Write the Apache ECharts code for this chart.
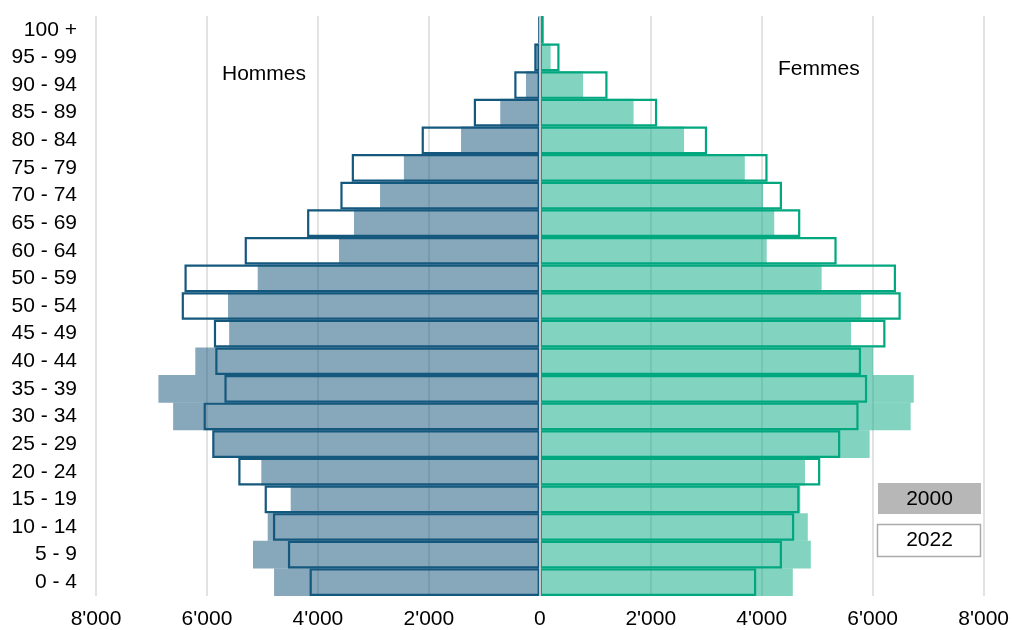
<!DOCTYPE html>
<html>
<head>
<meta charset="utf-8">
<script src="https://cdn.jsdelivr.net/npm/echarts@6/dist/echarts.min.js"></script>
<style>
html,body{margin:0;padding:0;background:#fff;}
#chart{width:1012px;height:630px;}
</style>
</head>
<body>
<div id="chart"></div>
<script>
const categories = ['0 - 4','5 - 9','10 - 14','15 - 19','20 - 24','25 - 29','30 - 34','35 - 39','40 - 44','45 - 49','50 - 54','50 - 59','60 - 64','65 - 69','70 - 74','75 - 79','80 - 84','85 - 89','90 - 94','95 - 99','100 +'];
const men2000 = [4790, 5170, 4905, 4490, 5020, 5890, 6610, 6875, 6210, 5600, 5620, 5085, 3620, 3350, 2880, 2450, 1420, 713, 250, 80, 10];
const men2022 = [4150, 4540, 4810, 4960, 5435, 5905, 6060, 5685, 5850, 5875, 6455, 6405, 5320, 4195, 3595, 3390, 2130, 1190, 460, 100, 20];
const women2000 = [4560, 4885, 4830, 4695, 4780, 5945, 6685, 6740, 6005, 5610, 5790, 5080, 4090, 4225, 4025, 3695, 2600, 1690, 780, 195, 30];
const women2022 = [3900, 4365, 4585, 4680, 5055, 5415, 5745, 5900, 5790, 6230, 6505, 6420, 5350, 4695, 4365, 4105, 3015, 2115, 1220, 355, 70];
const xTicks = [-8000, -6000, -4000, -2000, 0, 2000, 4000, 6000, 8000];

const FONT = 'Arial, "Liberation Sans", sans-serif';
const FS = 21;
function fmt(v){
  const a = Math.abs(v);
  return String(a).replace(/\B(?=(\d{3})+(?!\d))/g, "'");
}

const chart = echarts.init(document.getElementById('chart'), null, {renderer:'canvas'});
chart.setOption({
  animation:false,
  backgroundColor:'#ffffff',
  grid:{left:96, right:27, top:16, bottom:34, containLabel:false},
  xAxis:{
    type:'value', min:xTicks[0], max:xTicks[xTicks.length-1], interval:2000,
    axisLine:{show:false}, axisTick:{show:false},
    splitLine:{show:true, lineStyle:{color:'#d9d9d9', width:1.5}},
    axisLabel:{formatter:fmt, color:'#000', fontSize:FS, fontFamily:FONT, margin:13}
  },
  yAxis:{
    type:'category', data:categories,
    axisLine:{show:false}, axisTick:{show:false}, splitLine:{show:false},
    axisLabel:{color:'#000', fontSize:FS, fontFamily:FONT, margin:19}
  },
  series:[
    {name:'Hommes 2000', type:'bar', data:men2000.map(v=>-v), barGap:'-100%', barCategoryGap:'0%',
     itemStyle:{color:'rgba(16,80,120,0.5)'}},
    {name:'Femmes 2000', type:'bar', data:women2000, barGap:'-100%', barCategoryGap:'0%',
     itemStyle:{color:'rgba(5,170,130,0.5)'}},
    {name:'Hommes 2022', type:'bar', data:men2022.map(v=>-v), barGap:'-100%', barCategoryGap:'0%',
     itemStyle:{color:'rgba(0,0,0,0)', borderColor:'#15587e', borderWidth:2.2}},
    {name:'Femmes 2022', type:'bar', data:women2022, barGap:'-100%', barCategoryGap:'0%',
     itemStyle:{color:'rgba(0,0,0,0)', borderColor:'#00a77f', borderWidth:2.2}},
    {name:'axis0', type:'line', data:[], z:20,
     markLine:{silent:true, symbol:['none','none'], label:{show:false},
       lineStyle:{color:'#c8c8c8', width:2, type:'solid'},
       data:[{xAxis:0}]}}
  ],
  graphic:[
    {type:'text', left:222, top:64, z:50, style:{text:'Hommes', fill:'#000', font:FS+'px '+FONT}},
    {type:'text', left:778, top:59, z:50, style:{text:'Femmes', fill:'#000', font:FS+'px '+FONT}},
    {type:'rect', shape:{x:878, y:483, width:103, height:31}, z:50, style:{fill:'#b7b7b7'}},
    {type:'text', z:51, x:929.5, y:499, style:{text:'2000', fill:'#000', font:FS+'px '+FONT, textAlign:'center', textVerticalAlign:'middle'}},
    {type:'rect', shape:{x:877.5, y:524.5, width:103, height:32}, z:50, style:{fill:'#fff', stroke:'#aaaaaa', lineWidth:1.5}},
    {type:'text', z:51, x:929.5, y:540.5, style:{text:'2022', fill:'#000', font:FS+'px '+FONT, textAlign:'center', textVerticalAlign:'middle'}}
  ]
});
</script>
</body>
</html>
